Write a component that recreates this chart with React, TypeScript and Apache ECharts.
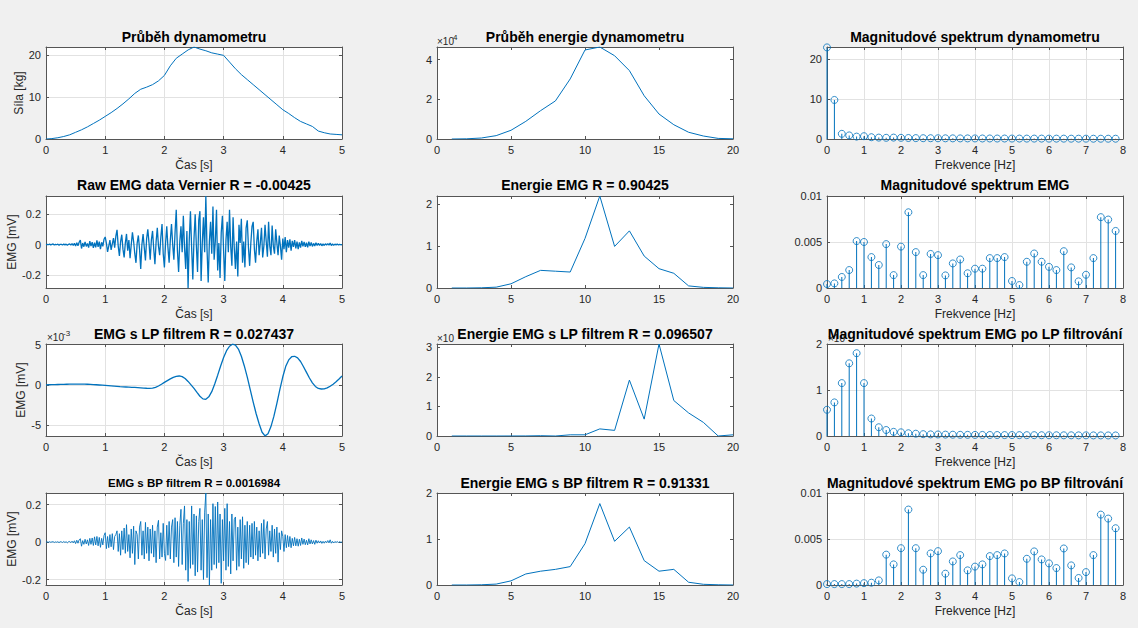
import React, { useEffect, useRef } from "react";
import * as echarts from "echarts";

const FONT = "'Liberation Sans', Arial, Helvetica, sans-serif";
const BLUE = "#0072BD";
const TXT = "#262626";
const BOX = "#555555";
const GRIDLINE = "#e2e2e2";

// sampling steps
const FORCE_DT = 0.1;
const EMG_DT = 0.02;
const LP_DT = 0.05;
const FREQ_STEP = 0.2;

// Síla [kg] vs Čas [s]
const FORCE_KG = [0, 0.1, 0.3, 0.6, 1.0, 1.6, 2.2, 2.9, 3.7, 4.5, 5.4, 6.3, 7.3, 8.4, 9.6, 10.9, 11.9, 12.4, 13.0, 13.9, 15.2, 17.5, 19.3, 20.3, 21.3, 22.0, 21.5, 21.1, 20.6, 20.3, 20.0, 18.4, 16.8, 15.4, 14.2, 13.0, 11.8, 10.6, 9.4, 8.2, 7.0, 6.1, 5.1, 4.2, 3.6, 3.0, 1.9, 1.5, 1.2, 1.1, 1.0];

// raw EMG [mV]
const EMG_RAW = [
  0.000, 0.002, -0.001, 0.003, -0.002, 0.001, 0.004, -0.003, 0.002, -0.001,
  0.003, -0.004, 0.002, 0.001, -0.003, 0.004, -0.002, 0.003, -0.005, 0.002,
  0.004, -0.003, 0.006, -0.005, 0.008, -0.010, 0.012, -0.008, 0.015, 0.030,
  -0.026, 0.010, -0.014, 0.018, -0.012, 0.008, -0.020, 0.022, -0.010, 0.016,
  -0.022, 0.012, -0.018, 0.028, -0.015, 0.020, -0.030, 0.015, -0.012, 0.035,
  0.050, 0.010, -0.048, -0.010, 0.030, -0.035, 0.005, 0.042, -0.020, 0.055,
  0.097, -0.010, -0.075, 0.020, 0.065, -0.030, -0.085, 0.010, 0.070, -0.040,
  0.030, -0.090, 0.000, 0.080, 0.020, -0.060, -0.120, 0.010, 0.060, -0.030,
  -0.160, 0.000, 0.070, -0.020, -0.105, 0.040, 0.100, 0.010, -0.100, 0.030,
  0.090, -0.030, -0.130, 0.020, 0.110, -0.010, -0.070, 0.050, 0.136, -0.060,
  -0.150, 0.010, 0.120, -0.020, -0.120, 0.030, 0.136, 0.000, -0.100, 0.080,
  0.230, -0.040, -0.180, 0.020, 0.120, -0.050, 0.190, -0.020, -0.160, 0.090,
  -0.286, 0.030, 0.220, -0.020, -0.230, 0.040, 0.200, -0.010, -0.180, 0.160,
  0.220, -0.240, 0.010, 0.180, -0.050, 0.320, -0.030, -0.250, 0.020, 0.150,
  -0.060, 0.250, -0.100, 0.020, 0.230, -0.170, 0.010, -0.220, 0.080, 0.190,
  -0.040, -0.240, 0.030, 0.150, -0.050, 0.230, -0.010, -0.140, 0.180, -0.020,
  -0.160, 0.020, -0.210, 0.130, 0.010, 0.170, -0.120, 0.020, -0.150, 0.110,
  0.160, -0.020, -0.140, 0.010, 0.120, 0.150, -0.030, -0.120, 0.020, 0.100,
  -0.070, 0.010, 0.110, -0.085, -0.010, 0.130, 0.020, -0.080, 0.150, -0.010,
  -0.070, 0.125, -0.010, -0.060, 0.100, 0.010, -0.070, 0.060, -0.010, -0.100,
  0.040, -0.030, 0.050, -0.050, 0.030, -0.020, 0.035, -0.040, 0.025, -0.015,
  0.030, -0.025, 0.020, -0.030, 0.015, -0.020, 0.025, -0.012, 0.018, -0.015,
  0.012, -0.018, 0.020, -0.010, 0.014, -0.012, 0.008, -0.010, 0.012, -0.006,
  0.008, -0.005, 0.006, -0.008, 0.004, -0.006, 0.005, -0.003, 0.006, -0.004,
  0.010, -0.006, 0.004, -0.005, 0.003, -0.002, 0.004, -0.003, 0.002, -0.001,
  0.000,
];

// LP filtered EMG [x10^-3 mV]
const EMG_LP = [
  0.00, 0.01, 0.02, 0.03, 0.04, 0.05, 0.06, 0.07, 0.08, 0.08,
  0.09, 0.09, 0.09, 0.08, 0.07, 0.05, 0.03, 0.01, -0.02, -0.05,
  -0.08, -0.11, -0.14, -0.17, -0.20, -0.23, -0.25, -0.27, -0.29, -0.31,
  -0.33, -0.35, -0.37, -0.40, -0.43, -0.45, -0.42, -0.32, -0.15, 0.07,
  0.30, 0.52, 0.74, 0.93, 1.06, 1.10, 1.02, 0.78, 0.42, 0.00,
  -0.45, -0.95, -1.42, -1.75, -1.80, -1.50, -0.85, 0.10, 1.20, 2.35,
  3.40, 4.25, 4.80, 5.05, 4.95, 4.45, 3.55, 2.35, 0.95, -0.60,
  -2.15, -3.60, -4.85, -5.90, -6.35, -6.10, -5.20, -3.90, -2.30, -0.60,
  1.00, 2.30, 3.10, 3.50, 3.55, 3.35, 2.90, 2.25, 1.55, 0.85,
  0.25, -0.20, -0.45, -0.52, -0.50, -0.38, -0.18, 0.08, 0.38, 0.72,
  1.10,
];

// BP filtered EMG [mV]
const EMG_BP = [
  0.000, 0.001, -0.001, 0.002, -0.001, 0.001, 0.002, -0.002, 0.001, -0.001,
  0.002, -0.003, 0.002, 0.001, -0.002, 0.003, -0.002, 0.002, -0.004, 0.002,
  0.003, -0.003, 0.005, -0.004, 0.007, -0.008, 0.010, -0.006, 0.012, 0.018,
  -0.022, 0.008, -0.012, 0.015, -0.010, 0.012, -0.018, 0.020, -0.012, 0.022,
  -0.018, 0.028, -0.015, 0.030, -0.020, 0.025, -0.028, 0.020, -0.015, 0.035,
  0.050, -0.035, 0.030, -0.030, 0.040, -0.025, 0.045, -0.040, 0.030, 0.040,
  0.060, -0.050, 0.045, -0.070, 0.060, -0.040, 0.075, -0.060, 0.093, -0.050,
  0.040, -0.084, 0.070, -0.060, 0.085, -0.120, 0.060, 0.040, -0.090, 0.080,
  0.110, -0.070, 0.060, -0.090, 0.105, -0.060, 0.080, -0.100, 0.070, -0.060,
  0.090, -0.080, 0.060, -0.110, 0.080, 0.116, -0.090, 0.050, -0.080, 0.100,
  -0.060, -0.098, 0.090, -0.070, 0.110, -0.090, 0.080, 0.120, -0.110, 0.130,
  -0.080, 0.110, -0.130, 0.090, 0.175, -0.120, 0.100, 0.193, -0.150, 0.120,
  -0.210, 0.110, -0.140, 0.193, -0.120, 0.150, -0.180, 0.140, -0.160, 0.110,
  0.180, -0.150, 0.120, -0.200, 0.160, 0.262, -0.190, 0.150, -0.229, 0.120,
  -0.150, 0.205, -0.120, 0.190, -0.140, 0.214, -0.110, 0.150, -0.220, 0.120,
  -0.100, 0.180, -0.150, 0.205, -0.130, 0.110, -0.170, 0.150, -0.100, 0.120,
  0.134, -0.150, 0.080, -0.130, 0.120, -0.090, 0.135, -0.140, 0.090, -0.110,
  0.110, -0.120, 0.090, -0.080, 0.100, -0.090, 0.110, -0.070, 0.080, -0.100,
  0.060, -0.080, 0.100, -0.060, 0.120, -0.090, 0.070, 0.110, -0.070, 0.060,
  -0.050, 0.090, -0.080, 0.070, -0.060, 0.080, -0.107, 0.050, -0.040, 0.060,
  0.030, -0.050, 0.040, -0.030, 0.035, -0.025, 0.030, -0.030, 0.020, -0.020,
  0.025, -0.020, 0.018, -0.022, 0.015, -0.018, 0.022, -0.012, 0.016, -0.014,
  0.010, -0.015, 0.018, -0.010, 0.012, -0.010, 0.008, -0.012, 0.010, -0.006,
  0.007, -0.005, 0.006, -0.007, 0.004, -0.006, 0.005, -0.003, 0.008, -0.004,
  0.012, -0.006, 0.004, -0.005, 0.003, -0.002, 0.003, -0.002, 0.002, -0.001,
  0.000,
];

// energy per window
const WINDOWS = [1, 2, 3, 4, 5, 6, 7, 8, 9, 10, 11, 12, 13, 14, 15, 16, 17, 18, 19, 20];
const ENERGY_DYN = [0.0, 0.01, 0.05, 0.17, 0.44, 0.89, 1.43, 1.92, 3.03, 4.49, 4.64, 4.2, 3.45, 2.18, 1.26, 0.72, 0.34, 0.15, 0.03, 0.01]; // x10^4
const ENERGY_EMG = [0.0, 0.0, 0.005, 0.02, 0.1, 0.27, 0.42, 0.40, 0.38, 1.18, 2.19, 0.99, 1.36, 0.76, 0.46, 0.35, 0.05, 0.015, 0.005, 0.0];
const ENERGY_LP = [0.0, 0.0, 0.0, 0.0, 0.001, 0.002, 0.01, 0.0, 0.04, 0.04, 0.24, 0.19, 1.89, 0.57, 3.11, 1.2, 0.78, 0.46, 0.0, 0.04];
const ENERGY_BP = [0.0, 0.0, 0.005, 0.02, 0.09, 0.24, 0.3, 0.34, 0.4, 0.9, 1.77, 0.95, 1.26, 0.53, 0.3, 0.34, 0.06, 0.015, 0.005, 0.0];

// magnitude spectra, 0 .. 7.8 Hz
const SPEC_DYN = [23.0, 9.8, 1.3, 0.9, 0.6, 0.7, 0.45, 0.35, 0.3, 0.35, 0.3, 0.25, 0.22, 0.2, 0.2, 0.18, 0.17, 0.16, 0.15, 0.15, 0.14, 0.13, 0.13, 0.12, 0.12, 0.11, 0.11, 0.1, 0.1, 0.1, 0.09, 0.09, 0.09, 0.08, 0.08, 0.08, 0.07, 0.07, 0.07, 0.07];
const SPEC_EMG = [0.00043, 0.0005, 0.0012, 0.00195, 0.0051, 0.005, 0.00336, 0.0025, 0.00477, 0.0014, 0.0045, 0.00823, 0.0039, 0.0014, 0.0037, 0.00357, 0.00137, 0.00267, 0.0031, 0.0016, 0.0021, 0.0021, 0.00325, 0.00325, 0.00336, 0.00076, 0.00032, 0.00285, 0.00375, 0.00285, 0.0023, 0.00195, 0.004, 0.00224, 0.00072, 0.00144, 0.00325, 0.0077, 0.00744, 0.0062];
const SPEC_LP = [0.57, 0.73, 1.15, 1.58, 1.80, 1.15, 0.38, 0.19, 0.13, 0.09, 0.08, 0.06, 0.05, 0.04, 0.035, 0.033, 0.03, 0.028, 0.026, 0.025, 0.024, 0.023, 0.022, 0.021, 0.02, 0.02, 0.019, 0.018, 0.018, 0.017, 0.016, 0.016, 0.015, 0.015, 0.014, 0.014, 0.013, 0.013, 0.012, 0.012]; // x10^-3
const SPEC_BP = [0.0001, 0.0001, 0.0001, 0.0001, 0.00015, 0.0002, 0.00025, 0.0005, 0.0033, 0.00224, 0.004, 0.0082, 0.004, 0.00166, 0.00343, 0.00368, 0.00123, 0.00256, 0.00325, 0.00159, 0.002, 0.00224, 0.00314, 0.00325, 0.00343, 0.00072, 0.00032, 0.00285, 0.00365, 0.00278, 0.00235, 0.00184, 0.00397, 0.00213, 0.00076, 0.0014, 0.00325, 0.00765, 0.00722, 0.00617];

const TITLES = [
  "Průběh dynamometru", "Průběh energie dynamometru", "Magnitudové spektrum dynamometru",
  "Raw EMG data Vernier R = -0.00425", "Energie EMG R = 0.90425", "Magnitudové spektrum EMG",
  "EMG s LP filtrem R = 0.027437", "Energie EMG s LP filtrem R = 0.096507", "Magnitudové spektrum EMG po LP filtrování",
  "EMG s BP filtrem R = 0.0016984", "Energie EMG s BP filtrem R = 0.91331", "Magnitudové spektrum EMG po BP filtrování",
];

// layout
const COL_LEFT = [46, 437, 827];
const ROW_TOP = [47, 196, 344, 493];
const PANEL_W = 296;
const PANEL_H = 92;
const TITLE_Y = [37, 185, 334, 483];

type Pt = [number, number];
const timed = (vals: number[], dt: number): Pt[] => vals.map((v, i) => [Number((i * dt).toFixed(4)), v]);
const freqd = (vals: number[]): Pt[] => vals.map((v, i) => [Number((i * FREQ_STEP).toFixed(4)), v]);
const windowed = (vals: number[]): Pt[] => vals.map((v, i) => [WINDOWS[i], v]);
const maxOf = (a: number[]) => Math.max(...a);
const minOf = (a: number[]) => Math.min(...a);

interface Panel {
  row: number; col: number; kind: "line" | "stem"; data: Pt[];
  x: [number, number, number]; y: [number, number, number];
  grid: boolean; xName?: string; yName?: string; yGap?: number; lw?: number; titleSize?: number;
}

const PANELS: Panel[] = [
  { row: 0, col: 0, kind: "line", data: timed(FORCE_KG, FORCE_DT), x: [0, 5, 1], y: [0, maxOf(FORCE_KG), 10], grid: true, xName: "Čas [s]", yName: "Síla [kg]", yGap: 17 },
  { row: 0, col: 1, kind: "line", data: windowed(ENERGY_DYN), x: [0, 20, 5], y: [0, maxOf(ENERGY_DYN), 2], grid: false },
  { row: 0, col: 2, kind: "stem", data: freqd(SPEC_DYN), x: [0, 8, 1], y: [0, 23.1, 10], grid: true, xName: "Frekvence [Hz]" },
  { row: 1, col: 0, kind: "line", data: timed(EMG_RAW, EMG_DT), x: [0, 5, 1], y: [minOf(EMG_RAW), maxOf(EMG_RAW), 0.2], grid: true, xName: "Čas [s]", yName: "EMG [mV]", yGap: 24, lw: 1.3 },
  { row: 1, col: 1, kind: "line", data: windowed(ENERGY_EMG), x: [0, 20, 5], y: [0, maxOf(ENERGY_EMG), 1], grid: false },
  { row: 1, col: 2, kind: "stem", data: freqd(SPEC_EMG), x: [0, 8, 1], y: [0, 0.01, 0.005], grid: true, xName: "Frekvence [Hz]" },
  { row: 2, col: 0, kind: "line", data: timed(EMG_LP, LP_DT), x: [0, 5, 1], y: [-6.37, 5.08, 5], grid: true, xName: "Čas [s]", yName: "EMG [mV]", yGap: 16, lw: 1.3 },
  { row: 2, col: 1, kind: "line", data: windowed(ENERGY_LP), x: [0, 20, 5], y: [0, maxOf(ENERGY_LP), 1], grid: false },
  { row: 2, col: 2, kind: "stem", data: freqd(SPEC_LP), x: [0, 8, 1], y: [0, 2, 1], grid: true, xName: "Frekvence [Hz]" },
  { row: 3, col: 0, kind: "line", data: timed(EMG_BP, EMG_DT), x: [0, 5, 1], y: [minOf(EMG_BP), maxOf(EMG_BP), 0.2], grid: true, xName: "Čas [s]", yName: "EMG [mV]", yGap: 24, lw: 0.9, titleSize: 11.5 },
  { row: 3, col: 1, kind: "line", data: windowed(ENERGY_BP), x: [0, 20, 5], y: [0, 2, 1], grid: false },
  { row: 3, col: 2, kind: "stem", data: freqd(SPEC_BP), x: [0, 8, 1], y: [0, 0.01, 0.005], grid: true, xName: "Frekvence [Hz]" },
];

const fmt = (v: number) => String(Number(v.toFixed(6)));
const isMult = (v: number, step: number) => Math.abs(v / step - Math.round(v / step)) < 1e-6;

function makeAxis(dim: "x" | "y", gridIndex: number, range: [number, number, number], p: Panel, mirror: boolean) {
  const [min, max, step] = range;
  const ax: any = {
    type: "value",
    gridIndex,
    min,
    max,
    minInterval: step,
    maxInterval: step,
    splitNumber: Math.max(1, Math.round((max - min) / step)),
    position: dim === "x" ? (mirror ? "top" : "bottom") : mirror ? "right" : "left",
    axisLine: { show: true, onZero: false, lineStyle: { color: BOX, width: 1 } },
    axisTick: { show: true, inside: true, length: 3, lineStyle: { color: BOX, width: 1 } },
    axisLabel: {
      show: !mirror,
      margin: 5,
      fontSize: 11,
      color: TXT,
      fontFamily: FONT,
      formatter: (v: number) => (isMult(v, step) ? fmt(v) : ""),
    },
    splitLine: { show: p.grid && !mirror, lineStyle: { color: GRIDLINE, width: 1 } },
  };
  if (!mirror) {
    const name = dim === "x" ? p.xName : p.yName;
    if (name) {
      ax.name = name;
      ax.nameLocation = "middle";
      ax.nameGap = dim === "x" ? 20 : p.yGap ?? 20;
      ax.nameTextStyle = { fontSize: 12, color: TXT, fontFamily: FONT };
    }
  }
  return ax;
}

function buildOption() {
  const grid = PANELS.map((p) => ({
    left: COL_LEFT[p.col],
    top: ROW_TOP[p.row],
    width: PANEL_W,
    height: PANEL_H,
    show: true,
    backgroundColor: "#ffffff",
    borderWidth: 0,
  }));
  const xAxis: any[] = [];
  const yAxis: any[] = [];
  const series: any[] = [];
  PANELS.forEach((p, i) => {
    xAxis.push(makeAxis("x", i, p.x, p, false), makeAxis("x", i, p.x, p, true));
    yAxis.push(makeAxis("y", i, p.y, p, false), makeAxis("y", i, p.y, p, true));
    const xi = 2 * i;
    if (p.kind === "line") {
      series.push({
        type: "line", xAxisIndex: xi, yAxisIndex: xi, data: p.data, symbol: "none", showSymbol: false,
        lineStyle: { color: BLUE, width: p.lw ?? 1 }, itemStyle: { color: BLUE }, silent: true,
      });
    } else {
      series.push({
        type: "bar", xAxisIndex: xi, yAxisIndex: xi, data: p.data, barWidth: 1,
        itemStyle: { color: BLUE }, silent: true,
      });
      series.push({
        type: "scatter", xAxisIndex: xi, yAxisIndex: xi, data: p.data, symbol: "circle", symbolSize: 7,
        clip: false, itemStyle: { color: "rgba(255,255,255,0)", borderColor: BLUE, borderWidth: 1 }, silent: true,
      });
    }
  });

  const graphic: any[] = PANELS.map((p, i) => ({
    type: "text",
    x: COL_LEFT[p.col] + PANEL_W / 2,
    y: TITLE_Y[p.row],
    silent: true,
    z: 10,
    style: {
      text: TITLES[i], fontSize: p.titleSize ?? 14, fontWeight: "bold", fontFamily: FONT,
      fill: "#000", align: "center", verticalAlign: "middle",
    },
  }));
  const expo = (x: number, y: number, exp: string) => {
    graphic.push({ type: "text", x, y, silent: true, z: 5, style: { text: "×10", fontSize: 10, fontFamily: FONT, fill: TXT, align: "left", verticalAlign: "middle" } });
    if (exp) graphic.push({ type: "text", x: x + 16, y: y - 4, silent: true, z: 5, style: { text: exp, fontSize: 8, fontFamily: FONT, fill: TXT, align: "left", verticalAlign: "middle" } });
  };
  expo(437, 41, "4");
  expo(47, 337, "-3");
  expo(437, 338, "");
  expo(828, 338, "");

  return {
    animation: false,
    backgroundColor: "#f0f0f0",
    textStyle: { fontFamily: FONT },
    grid,
    xAxis,
    yAxis,
    series,
    graphic,
  };
}

export default function App() {
  const ref = useRef<HTMLDivElement>(null);
  useEffect(() => {
    if (!ref.current) return;
    const chart = echarts.init(ref.current, undefined, { renderer: "svg" });
    chart.setOption(buildOption() as any);
    return () => chart.dispose();
  }, []);
  return (
    <div
      ref={ref}
      style={{ position: "absolute", left: 0, top: 0, width: 1138, height: 628, background: "#f0f0f0" }}
    />
  );
}
